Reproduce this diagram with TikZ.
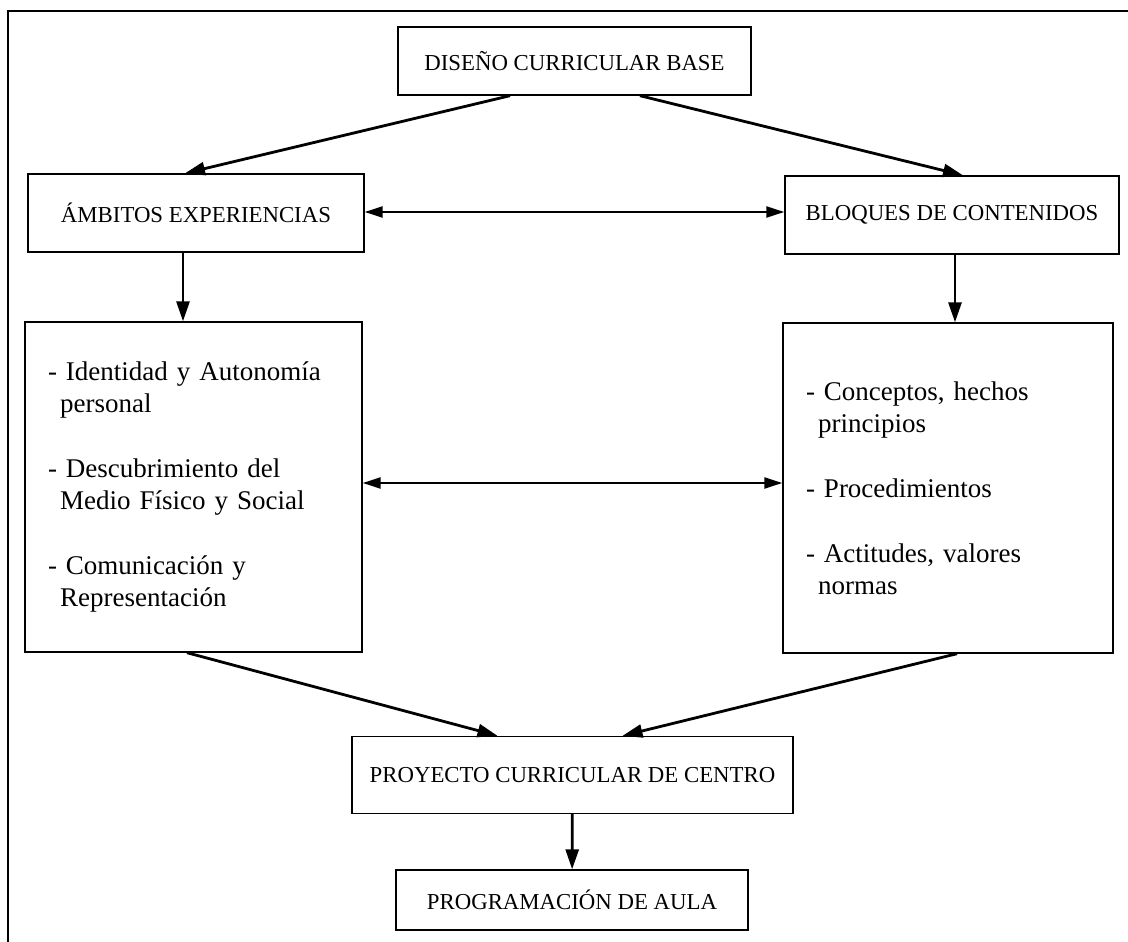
\documentclass[tikz,border=0pt]{standalone}
\usepackage{fontspec}
\setmainfont{Liberation Serif}
\usepackage{tikz}
\usetikzlibrary{arrows.meta, positioning, calc}

\begin{document}
\begin{tikzpicture}[
          x=1pt, y=-1pt,
          box/.style={rectangle, draw, line width=1.4pt, inner sep=0pt, font=\fontsize{22.8}{27}\selectfont},
          listBox/.style={rectangle, draw, line width=1.4pt, align=left, inner xsep=23pt, inner ysep=0pt, minimum height=330pt, font=\fontsize{27}{32}\selectfont},
          flow/.style={-{Triangle[length=20pt, width=13pt]}, line width=2.8pt},
          link/.style={{Triangle[length=18pt, width=11pt]}-{Triangle[length=18pt, width=11pt]}, line width=2.2pt}
        ]
          \useasboundingbox (0,0) rectangle (1128,942);
          \draw[line width=1.5pt] (8,942) -- (8,11) -- (1128,11);

          \node[box, minimum width=353pt, minimum height=68pt] (base) at (574.5,61) {DISEÑO CURRICULAR BASE};
          \node[box, minimum width=336pt, minimum height=78pt] (ambitos) at (196,213) {ÁMBITOS EXPERIENCIAS};
          \node[box, minimum width=334pt, minimum height=78pt] (bloques) at (952,215) {BLOQUES DE CONTENIDOS};
          \node[listBox, text width=291pt] (ambitosList) at (193.5,487) {- Identidad y Autonomía\\\hspace*{0.45em}personal\\[33pt]- Descubrimiento del\\\hspace*{0.45em}Medio Físico y Social\\[33pt]- Comunicación y\\\hspace*{0.45em}Representación};
          \node[listBox, text width=284pt] (bloquesList) at (948,488) {- Conceptos, hechos\\\hspace*{0.45em}principios\\[33pt]- Procedimientos\\[33pt]- Actitudes, valores\\\hspace*{0.45em}normas};
          \node[box, minimum width=441pt, minimum height=77pt] (proyecto) at (572.5,775) {PROYECTO CURRICULAR DE CENTRO};
          \node[box, minimum width=352pt, minimum height=60pt] (programacion) at (572,900) {PROGRAMACIÓN DE AULA};

          \draw[flow] ([xshift=-64.5pt]base.south) -- ([xshift=-11pt]ambitos.north);
          \draw[flow] ([xshift=65.5pt]base.south) -- ([xshift=11pt]bloques.north);
          \draw[link] ([yshift=1pt]ambitos.east) -- ([yshift=1pt]ambitos.east -| bloques.west);
          \draw[flow] ([xshift=-13pt]ambitos.south) -- ([xshift=-13pt]ambitos.south |- ambitosList.north);
          \draw[flow] ([xshift=3pt]bloques.south) -- ([xshift=3pt]bloques.south |- bloquesList.north);
          \draw[link] ([yshift=4pt]ambitosList.east) -- ([yshift=4pt]ambitosList.east -| bloquesList.west);
          \draw[flow] ([xshift=-6.5pt]ambitosList.south) -- ([xshift=-75pt]proyecto.north);
          \draw[flow] ([xshift=9pt]bloquesList.south) -- ([xshift=50pt]proyecto.north);
          \draw[flow] (proyecto) -- (programacion);
        \end{tikzpicture}
\end{document}
